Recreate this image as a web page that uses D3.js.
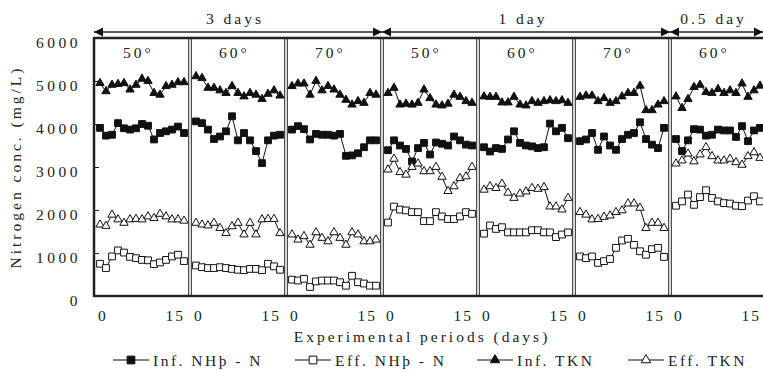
<!DOCTYPE html>
<html>
<head>
<meta charset="utf-8">
<script src="https://cdn.jsdelivr.net/npm/d3@7"></script>
<style>
  body { margin: 0; background: #fff; }
  svg { display: block; }
</style>
</head>
<body>
<div id="chart"></div>
<script>
// panels: temperature / HRT groups
const panelTemps = ['50°', '60°', '70°', '50°', '60°', '70°', '60°']
const hrtLabels = ['3 days', '1 day', '0.5 day']
const hrtSpans = [[0, 3], [3, 6], [6, 7]]
const days = [1, 2, 3, 4, 5, 6, 7, 8, 9, 10, 11, 12, 13, 14, 15]
const yTicks = [0, 1000, 2000, 3000, 4000, 5000, 6000]

// one row per panel, one value per day (mg/L)
const infNH4 = [
  [3910, 3730, 3750, 4020, 3900, 3870, 3900, 4000, 3960, 3640, 3790, 3830, 3870, 3940, 3790],
  [4060, 4020, 3870, 3650, 3710, 3830, 4180, 3620, 3790, 3620, 3370, 3090, 3620, 3730, 3750],
  [3870, 3950, 3880, 3640, 3770, 3750, 3750, 3730, 3770, 3260, 3270, 3320, 3460, 3620, 3620],
  [3390, 3620, 3500, 3420, 3130, 3440, 3560, 3290, 3570, 3540, 3500, 3710, 3620, 3520, 3500],
  [3460, 3360, 3440, 3420, 3640, 3830, 3560, 3500, 3480, 3440, 3460, 4010, 3830, 3910, 3670],
  [3600, 3640, 3790, 3400, 3710, 3500, 3400, 3650, 3750, 3790, 4040, 3650, 3520, 3440, 3910],
  [3650, 3370, 3620, 3880, 3870, 3730, 3750, 3870, 3850, 3850, 3700, 3950, 3600, 3850, 3910]
]
const effNH4 = [
  [750, 650, 920, 1060, 1010, 910, 880, 840, 830, 740, 780, 840, 920, 960, 810],
  [710, 670, 650, 650, 670, 650, 630, 610, 600, 630, 630, 600, 750, 690, 610],
  [380, 360, 400, 210, 340, 360, 360, 360, 320, 240, 470, 320, 290, 240, 240],
  [1710, 2080, 2010, 1990, 1950, 1950, 1740, 1740, 1950, 1850, 1790, 1790, 1850, 1950, 1910],
  [1450, 1640, 1560, 1600, 1480, 1480, 1480, 1480, 1530, 1530, 1480, 1480, 1370, 1430, 1480],
  [920, 880, 920, 770, 810, 860, 1120, 1290, 1330, 1190, 1040, 960, 1090, 1120, 910],
  [2100, 2200, 2360, 2120, 2300, 2460, 2280, 2200, 2160, 2150, 2100, 2090, 2220, 2320, 2200]
]
const infTKN = [
  [4950, 4760, 4910, 4930, 4950, 4800, 4910, 5050, 5000, 4720, 4680, 4880, 4910, 4970, 4970],
  [5110, 5070, 4840, 4840, 4780, 4720, 4880, 4720, 4640, 4720, 4680, 4580, 4700, 4780, 4660],
  [4880, 4940, 4940, 4680, 5000, 4780, 4880, 4800, 4680, 4560, 4450, 4530, 4490, 4720, 4680],
  [4720, 4840, 4450, 4470, 4450, 4490, 4800, 4600, 4450, 4430, 4470, 4680, 4630, 4530, 4490],
  [4640, 4630, 4630, 4500, 4500, 4630, 4450, 4430, 4530, 4490, 4530, 4550, 4530, 4550, 4490],
  [4630, 4660, 4660, 4530, 4600, 4490, 4530, 4640, 4720, 4720, 4890, 4320, 4320, 4450, 4530],
  [4640, 4370, 4580, 4860, 4910, 4740, 4720, 4810, 4720, 4780, 4720, 4940, 4630, 4780, 4890]
]
const effTKN = [
  [1660, 1630, 1890, 1780, 1700, 1780, 1790, 1780, 1850, 1810, 1910, 1850, 1780, 1780, 1750],
  [1700, 1660, 1640, 1700, 1580, 1460, 1620, 1700, 1430, 1700, 1430, 1780, 1790, 1790, 1460],
  [1430, 1310, 1390, 1190, 1480, 1350, 1270, 1480, 1350, 1190, 1480, 1430, 1270, 1270, 1310],
  [2940, 3190, 2880, 2820, 3000, 3080, 2900, 2900, 3000, 2770, 2440, 2550, 2740, 2780, 3000],
  [2470, 2550, 2510, 2610, 2400, 2280, 2380, 2430, 2510, 2490, 2530, 2080, 2080, 2010, 2280],
  [1950, 1890, 1780, 1790, 1840, 1870, 1950, 1990, 2150, 2150, 2050, 1580, 1700, 1700, 1580],
  [3080, 3150, 3310, 3130, 3290, 3460, 3250, 3150, 3150, 3190, 3110, 3050, 3250, 3340, 3210]
]

const W = 763, H = 371
const plotLeft = 94, plotTop = 38, plotBottom = 296
const panelW = 96
const serif = '"Liberation Serif", "DejaVu Serif", "Times New Roman", serif'

const series = [
  { name: 'Inf. NHþ - N', data: infNH4, shape: d3.symbolSquare, size: 46, fill: '#111' },
  { name: 'Eff. NHþ - N', data: effNH4, shape: d3.symbolSquare, size: 46, fill: '#fff' },
  { name: 'Inf. TKN', data: infTKN, shape: d3.symbolTriangle, size: 30, fill: '#111' },
  { name: 'Eff. TKN', data: effTKN, shape: d3.symbolTriangle, size: 30, fill: '#fff' }
]

let svg = d3.select('#chart').append('svg')
  .attr('width', W).attr('height', H)
  .attr('font-family', serif)

// every label gets the same serif face
function label (sel, size, spacing) {
  return sel.attr('font-family', serif)
    .attr('font-size', size)
    .attr('fill', '#222')
    .style('letter-spacing', spacing + 'px')
}

let panel = d3.scaleBand()
  .domain(d3.range(panelTemps.length))
  .range([plotLeft, plotLeft + panelW * panelTemps.length])
let x = d3.scaleLinear().domain([0, 16]).range([0, panelW])
let y = d3.scaleLinear().domain([0, 6000]).range([plotBottom, plotTop])

// y axis
let yAxis = d3.axisLeft(y).tickValues(yTicks).tickFormat(d3.format('d')).tickSize(-5).tickPadding(13)
let yg = svg.append('g').attr('transform', 'translate(' + plotLeft + ',0)').call(yAxis)
yg.attr('font-family', serif)
yg.select('.domain').remove()
yg.selectAll('.tick line').attr('stroke', '#222')
label(yg.selectAll('.tick text'), 15.5, 3.5).attr('dy', '0.62em')

label(svg.append('text'), 15.5, 3)
  .attr('transform', 'translate(21,' + ((plotTop + plotBottom) / 2) + ') rotate(-90)')
  .attr('text-anchor', 'middle')
  .text('Nitrogen conc. (mg/L)')

// frame
svg.append('line').attr('x1', plotLeft).attr('x2', plotLeft).attr('y1', plotTop - 1).attr('y2', plotBottom + 1)
  .attr('stroke', '#222').attr('stroke-width', 2.5)
svg.append('line').attr('x1', plotLeft).attr('x2', W + 5).attr('y1', plotTop).attr('y2', plotTop)
  .attr('stroke', '#222').attr('stroke-width', 2.5)
svg.append('line').attr('x1', plotLeft).attr('x2', W + 5).attr('y1', plotBottom).attr('y2', plotBottom)
  .attr('stroke', '#222').attr('stroke-width', 2.5)

// double separators between panels
for (let i = 1; i < panelTemps.length; i++) {
  let bx = panel(i)
  for (let off of [-1.3, 1.3]) {
    svg.append('line')
      .attr('x1', bx + off).attr('x2', bx + off)
      .attr('y1', plotTop).attr('y2', plotBottom)
      .attr('stroke', '#222').attr('stroke-width', 1)
  }
}

// panels
panelTemps.forEach(function (temp, p) {
  let g = svg.append('g').attr('transform', 'translate(' + panel(p) + ',0)')

  label(g.append('text'), 15.5, 3)
    .attr('x', panelW / 2 - 19).attr('y', 58)
    .text(temp)

  label(g.append('text'), 15.5, 0)
    .attr('x', x(1.3)).attr('y', 321)
    .attr('text-anchor', 'middle')
    .text('0')
  label(g.append('text'), 15.5, 2)
    .attr('x', x(15) + 1).attr('y', 321)
    .attr('text-anchor', 'end')
    .text('15')

  series.forEach(function (s) {
    let pts = days.map(function (d, i) { return [d, s.data[p][i]] })
    g.append('path')
      .datum(pts)
      .attr('fill', 'none')
      .attr('stroke', '#111')
      .attr('stroke-width', 1)
      .attr('d', d3.line()
        .x(function (d) { return x(d[0]) })
        .y(function (d) { return y(d[1]) }))
    g.selectAll(null)
      .data(pts)
      .enter()
      .append('path')
      .attr('transform', function (d) { return 'translate(' + x(d[0]) + ',' + y(d[1]) + ')' })
      .attr('d', d3.symbol().type(s.shape).size(s.size))
      .attr('fill', s.fill)
      .attr('stroke', '#111')
      .attr('stroke-width', 1)
  })
})

// HRT arrows on top
let arrowY = 32
hrtLabels.forEach(function (text, i) {
  let x0 = panel(hrtSpans[i][0])
  let x1 = Math.min(panel(hrtSpans[i][1] - 1) + panelW, W)
  svg.append('line')
    .attr('x1', x0).attr('x2', x1).attr('y1', arrowY).attr('y2', arrowY)
    .attr('stroke', '#222').attr('stroke-width', 1.5)
  svg.append('path')
    .attr('d', 'M' + x0 + ',' + arrowY + 'l9,-4.5v9z')
    .attr('fill', '#111')
  svg.append('path')
    .attr('d', 'M' + x1 + ',' + arrowY + 'l-9,-4.5v9z')
    .attr('fill', '#111')
  label(svg.append('text'), 15.5, 3)
    .attr('x', (x0 + x1) / 2 - 3).attr('y', 24)
    .attr('text-anchor', 'middle')
    .text(text)
})

// x title
label(svg.append('text'), 15.5, 3)
  .attr('x', 422).attr('y', 342)
  .attr('text-anchor', 'middle')
  .text('Experimental periods (days)')

// legend
let legendX = [113, 295, 477, 628]
series.forEach(function (s, i) {
  let lg = svg.append('g').attr('transform', 'translate(' + legendX[i] + ',360)')
  lg.append('line').attr('x1', 0).attr('x2', 36).attr('y1', 0).attr('y2', 0)
    .attr('stroke', '#111').attr('stroke-width', 1.2)
  lg.append('path')
    .attr('transform', 'translate(18,0)')
    .attr('d', d3.symbol().type(s.shape).size(s.size * 1.3))
    .attr('fill', s.fill).attr('stroke', '#111')
  label(lg.append('text'), 15.5, 2.5)
    .attr('x', 40).attr('y', 6)
    .text(s.name)
})
</script>
</body>
</html>
